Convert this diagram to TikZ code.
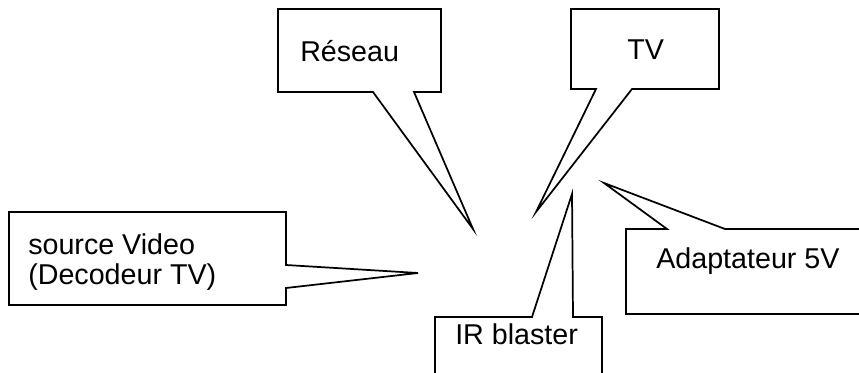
\documentclass[tikz,border=0pt]{standalone}
\usepackage{fontspec}
\setmainfont{Liberation Sans}
\usetikzlibrary{positioning}

\tikzset{
  bulle/.style={draw=black,line width=1.3pt,line join=miter,fill=white},
  label/.style={inner sep=0pt,anchor=base west,font=\fontsize{21.5}{22.5}\selectfont}
}

\begin{document}
\begin{tikzpicture}[x=0.75pt,y=-0.75pt]
	\useasboundingbox (0,0) rectangle (859,373);
	\clip (0,0) rectangle (859,373);
	% points vises par les bulles
	\coordinate (pR) at (473,229);
	\coordinate (pT) at (536,212);
	\coordinate (pS) at (418,273);
	\coordinate (pI) at (572,194);
	\coordinate (pA) at (604,183);
	% bulles
	\draw[bulle] (278,9) -- (441,9) -- (441,92) -- (414,92) -- (pR) -- (373,92) -- (278,92) -- cycle;
	\draw[bulle] (571,9) -- (719,9) -- (719,89) -- (632,89) -- (pT) -- (596,89) -- (571,89) -- cycle;
	\draw[bulle] (9,212) -- (286,212) -- (286,265) -- (pS) -- (286,288) -- (286,305) -- (9,305) -- cycle;
	\draw[bulle] (435,395) -- (435,317) -- (532,317) -- (pI) -- (573,317) -- (602,317) -- (602,395) -- cycle;
	\draw[bulle] (626,314) -- (626,229) -- (667,229) -- (pA) -- (725,229) -- (875,229) -- (875,314) -- cycle;
	% textes
	\node[label] (reseau) at (300,62)  {Réseau};
	\node[label] (tv)     at (627,60)  {TV};
	\node[label] (src1)   at (28,255)  {source Video};
	\node[label] (src2)   at (28,285)  {(Decodeur TV)};
	\node[label] (ir)     at (455,345) {IR blaster};
	\node[label] (adapt)  at (656,269) {Adaptateur 5V};
\end{tikzpicture}
\end{document}
